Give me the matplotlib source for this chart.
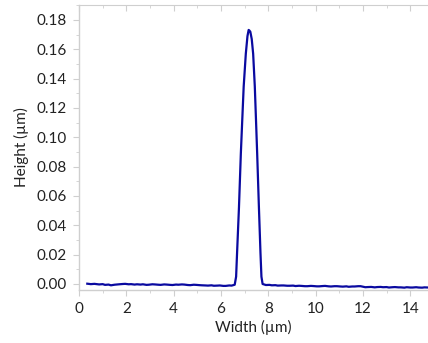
import numpy as np
import matplotlib
matplotlib.use("Agg")
from matplotlib import pyplot as plt
from matplotlib.ticker import MultipleLocator, FormatStrFormatter

# profile (width in um, height in um), 10 points per row
width = [0.35, 0.5, 0.65, 0.85, 1.0, 1.1, 1.25, 1.35, 1.5, 1.7,
         1.85, 1.95, 2.1, 2.2, 2.35, 2.45, 2.6, 2.7, 2.85, 2.95,
         3.1, 3.2, 3.35, 3.45, 3.6, 3.7, 3.85, 3.95, 4.1, 4.2,
         4.35, 4.45, 4.6, 4.7, 4.85, 4.95, 5.1, 5.2, 5.35, 5.45,
         5.6, 5.7, 5.85, 5.95, 6.1, 6.2, 6.35, 6.45, 6.58, 6.64,
         6.68, 6.76, 6.84, 6.90, 6.96, 7.05, 7.12, 7.17, 7.20, 7.24,
         7.30, 7.36, 7.43, 7.48, 7.53, 7.60, 7.67, 7.71, 7.76, 7.9,
         8.05, 8.15, 8.3, 8.4, 8.55, 8.65, 8.8, 8.9, 9.05, 9.15,
         9.3, 9.4, 9.55, 9.65, 9.8, 9.9, 10.05, 10.15, 10.3, 10.4,
         10.55, 10.65, 10.8, 10.9, 11.05, 11.15, 11.3, 11.4, 11.55, 11.65,
         11.8, 11.9, 12.1, 12.2, 12.35, 12.5, 12.6, 12.75, 12.85, 13.0,
         13.1, 13.25, 13.35, 13.5, 13.6, 13.75, 13.85, 14.0, 14.1, 14.25,
         14.35, 14.5, 14.6, 14.75]
height = [0.0002, -0.0001, 0.0001, -0.0003, -0.0001, -0.0006, -0.0004, -0.0009, -0.0005, -0.0002,
          0.0000, 0.0001, -0.0002, -0.0001, -0.0004, -0.0002, -0.0004, -0.0002, -0.0006, -0.0005,
          -0.0002, -0.0003, -0.0005, -0.0006, -0.0003, -0.0004, -0.0006, -0.0007, -0.0004, -0.0005,
          -0.0003, -0.0004, -0.0007, -0.0008, -0.0005, -0.0006, -0.0008, -0.0009, -0.0010, -0.0011,
          -0.0009, -0.0012, -0.0011, -0.0010, -0.0013, -0.0013, -0.0010, -0.0011, -0.0005, 0.0050,
          0.0210, 0.0520, 0.0890, 0.1120, 0.1346, 0.1570, 0.1690, 0.1732, 0.1728, 0.1720,
          0.1670, 0.1570, 0.1346, 0.1120, 0.0890, 0.0540, 0.0210, 0.0050, 0.0000, -0.0007,
          -0.0006, -0.0009, -0.0008, -0.0011, -0.0010, -0.0010, -0.0012, -0.0012, -0.0011, -0.0014,
          -0.0012, -0.0013, -0.0015, -0.0015, -0.0013, -0.0014, -0.0016, -0.0016, -0.0014, -0.0013,
          -0.0016, -0.0017, -0.0015, -0.0015, -0.0017, -0.0018, -0.0016, -0.0019, -0.0017, -0.0017,
          -0.0015, -0.0015, -0.0022, -0.0021, -0.0020, -0.0023, -0.0021, -0.0020, -0.0022, -0.0021,
          -0.0024, -0.0022, -0.0021, -0.0023, -0.0023, -0.0025, -0.0022, -0.0024, -0.0024, -0.0022,
          -0.0024, -0.0025, -0.0023, -0.0024]

plt.rcParams["font.family"] = ["Lato", "DejaVu Sans"]
spine_col = "#cfcfcf"
text_col = "#222222"

fig = plt.figure(figsize=(4.28, 3.43), dpi=100)
ax = fig.add_axes([0.1846, 0.1545, 0.8154, 0.8309])
ax.plot(width, height, color="#0a0aa0", lw=1.6)

ax.set_xlim(0, 14.75)
ax.set_ylim(-0.0041, 0.1902)
ax.xaxis.set_major_locator(MultipleLocator(2))
ax.xaxis.set_minor_locator(MultipleLocator(1))
ax.yaxis.set_major_locator(MultipleLocator(0.02))
ax.yaxis.set_minor_locator(MultipleLocator(0.01))
ax.yaxis.set_major_formatter(FormatStrFormatter("%.2f"))

ax.spines["right"].set_visible(False)
ax.spines["top"].set_visible(False)
for s in ["left", "bottom"]:
    ax.spines[s].set_color(spine_col)
    ax.spines[s].set_linewidth(1.0)

ax.tick_params(which="both", color=spine_col, labelsize=11, labelcolor=text_col, pad=4)
ax.tick_params(which="major", length=4.5)
ax.tick_params(which="minor", length=2.5)

# ticks on the top spine point into the plot
sec = ax.secondary_xaxis("top")
sec.xaxis.set_major_locator(MultipleLocator(2))
sec.xaxis.set_minor_locator(MultipleLocator(1))
sec.tick_params(which="both", direction="in", color=spine_col, labeltop=False)
sec.tick_params(which="major", length=4.5)
sec.tick_params(which="minor", length=2.5)
sec.spines["top"].set_color(spine_col)

ax.set_xlabel("Width (µm)", fontsize=11, color=text_col, labelpad=3)
ax.set_ylabel("Height (µm)", fontsize=11, color=text_col, labelpad=6)

fig.savefig("out.png", dpi=100)
